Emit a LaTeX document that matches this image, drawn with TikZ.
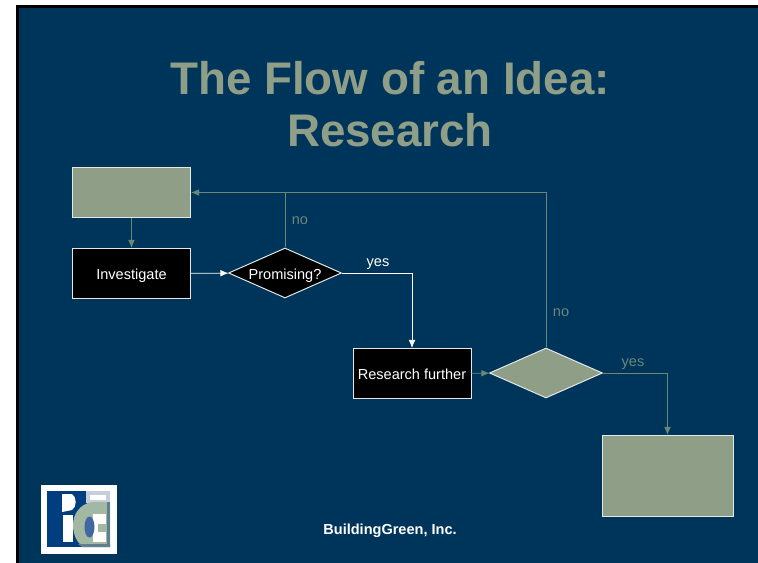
\documentclass[tikz,border=0pt]{standalone}
\usepackage{fontspec}
\setmainfont{Liberation Sans}
\usetikzlibrary{shapes.geometric,arrows.meta,positioning}
\definecolor{bgblue}{HTML}{00355B}
\definecolor{sage}{HTML}{8F9F87}
\definecolor{muted}{HTML}{6C8678}
\definecolor{edge}{HTML}{E4E8E2}
\definecolor{logoblue}{HTML}{003F7F}
\definecolor{logosage}{HTML}{A3B8A3}
\definecolor{logoband}{HTML}{5F7F8F}
\definecolor{logopale}{HTML}{C4CEDC}
\definecolor{logomid}{HTML}{3F68A0}
\newcommand{\flowtext}[1]{\smash{\raisebox{-4.8pt}{\makebox[0pt]{#1}}}}
\tikzset{
  px/.style={x=0.75pt,y=-0.75pt},
  box/.style={rectangle,draw=edge,line width=0.75pt,inner sep=0pt,text=white,font=\fontsize{10.9}{12}\selectfont,minimum width=88.5pt,minimum height=37.5pt},
  dia/.style={diamond,draw=edge,line width=0.75pt,inner sep=0pt,text=white,font=\fontsize{10.9}{12}\selectfont,minimum width=84.75pt,minimum height=37.5pt},
  flowpale/.style={draw=muted,line width=0.7pt,-{Latex[length=6pt,width=5pt]}},
  flowwhite/.style={draw=white,line width=0.55pt,-{Latex[length=6pt,width=5pt]}},
  plainpale/.style={draw=muted,line width=0.7pt},
  lab/.style={font=\fontsize{10.9}{12}\selectfont,inner sep=0pt},
  titletext/.style={text=sage,font=\bfseries\fontsize{34.3}{39.5}\selectfont,align=center,inner sep=0pt}
}
\begin{document}
\begin{tikzpicture}[px]
\useasboundingbox (0,0) rectangle (758,563);
\fill[white] (0,0) rectangle (758,563);
\fill[black] (16,5) rectangle (758,563);
\fill[bgblue] (19,8) rectangle (758,563);
% title
\node[titletext] (title) at (390,104) {The Flow of an Idea:\\Research};
% nodes
\node[box,fill=sage] (idea) at (131.5,192.5) {};
\node[box,fill=black] (inv) at (131.5,273.5) {\flowtext{Investigate}};
\node[dia,fill=black] (prom) at (285,273) {\flowtext{Promising?}};
\node[box,fill=black] (res) at (412,373.5) {\flowtext{Research further}};
\node[dia,fill=sage] (dec) at (546,373) {};
\node[box,fill=sage,minimum width=98.25pt,minimum height=60.75pt] (final) at (667.5,476) {};
\coordinate (tj) at (285,192.5);
\coordinate (tr) at (546,192.5);
\coordinate (py) at (412,273);
\coordinate (dy) at (667.5,373);
% connectors
\draw[flowpale] (idea) -- (inv);
\draw[flowwhite] (inv) -- (prom);
\draw[plainpale] (prom.north) -- (tj);
\draw[flowpale] (dec.north) -- (tr) -- (idea.east);
\draw[flowwhite] (prom.east) -- (py) -- (res.north);
\draw[flowpale] (res) -- (dec);
\draw[flowpale] (dec.east) -- (dy) -- (final.north);
% labels
\node[lab,text=muted] (no1) at (300,221) {no};
\node[lab,text=white] (yes1) at (378,264.5) {yes};
\node[lab,text=muted] (no2) at (561,313) {no};
\node[lab,text=muted] (yes2) at (633,364.5) {yes};
\node[lab,text=white,font=\bfseries\fontsize{10.9}{12}\selectfont] (firm) at (390,530.5) {BuildingGreen, Inc.};
% logo
\fill[white] (41,485) rectangle (117,554);
\fill[logoblue] (47,491) rectangle (110,547);
% P and stem
\fill[white] (62,494) -- (72,494) .. controls (77,497) and (77,507) .. (72,510) -- (62,512) -- cycle;
\fill[white] (63,515) rectangle (73,542);
% top right band
\fill[logopale] (86,491) rectangle (110,503);
\fill[white] (90,495) rectangle (106,500);
% sage round shape
\fill[logosage] (110,502) -- (92,502) .. controls (80,504) and (73,514) .. (73,525) .. controls (73,536) and (78,544) .. (84,547) -- (110,547) -- cycle;
\fill[logoband] (78,544) -- (110,544) -- (110,547) -- (82,547) -- cycle;
\fill[logoband] (107,502) rectangle (110,544);
% e
\fill[white] (93,514) rectangle (106,542);
\fill[logosage] (98,524) rectangle (106,532);
\fill[logomid] (89.5,527) ellipse [x radius=5,y radius=10.5];
\end{tikzpicture}
\end{document}
